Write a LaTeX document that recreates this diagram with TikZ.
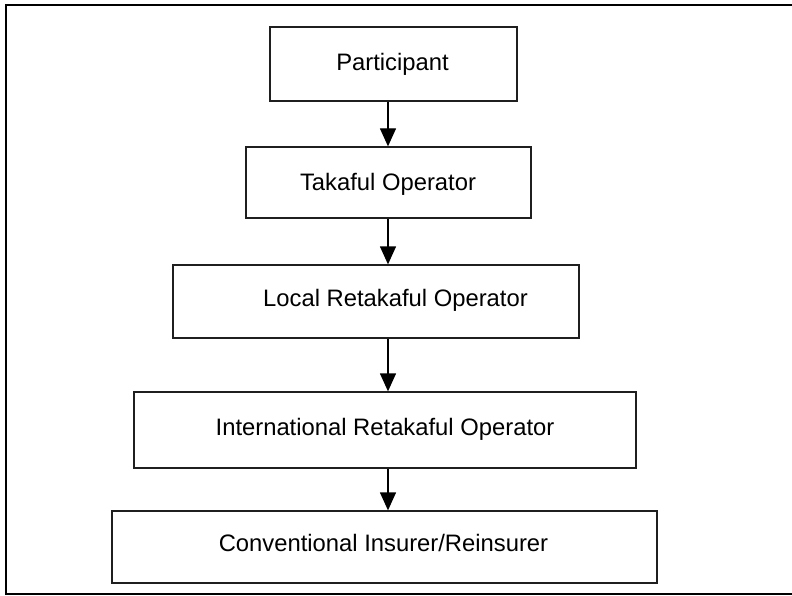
\documentclass[tikz,border=0pt]{standalone}
\usepackage{fontspec}
\setmainfont{Liberation Sans}
\usetikzlibrary{arrows.meta}
\begin{document}
\begin{tikzpicture}[x=1pt,y=-1pt,
  boxnode/.style={draw=black!88,line width=1.3pt,rectangle,inner sep=0pt},
  lbl/.style={anchor=base,inner sep=0pt,font=\fontsize{23.8pt}{28pt}\selectfont},
  arr/.style={draw=black,line width=1.3pt,-{Triangle[length=18pt,width=16pt]}}]
\useasboundingbox (0,0) rectangle (792,596);
\draw[line width=2pt] (792,5) -- (6,5) -- (6,594) -- (792,594);
% boxes
\node[boxnode,minimum width=247pt,minimum height=74pt] (p) at (393.5,64) {};
\node[boxnode,minimum width=285pt,minimum height=71pt] (t) at (388.5,182.5) {};
\node[boxnode,minimum width=406pt,minimum height=73pt] (l) at (376,301.5) {};
\node[boxnode,minimum width=502pt,minimum height=76pt] (i) at (385,430) {};
\node[boxnode,minimum width=545pt,minimum height=72pt] (c) at (384.5,547) {};
% labels
\node[lbl] (pl) at (392.5,71) {Participant};
\node[lbl] (tl) at (388,190) {Takaful Operator};
\node[lbl] (ll) at (395.5,306) {Local Retakaful Operator};
\node[lbl] (il) at (385,435) {International Retakaful Operator};
\node[lbl] (cl) at (383.5,551) {Conventional Insurer/Reinsurer};
% arrows
\coordinate (ax) at (388,0);
\draw[arr] (p.south -| ax) -- (t.north -| ax);
\draw[arr] (t.south -| ax) -- (l.north -| ax);
\draw[arr] (l.south -| ax) -- (i.north -| ax);
\draw[arr] (i.south -| ax) -- (c.north -| ax);
\end{tikzpicture}
\end{document}
